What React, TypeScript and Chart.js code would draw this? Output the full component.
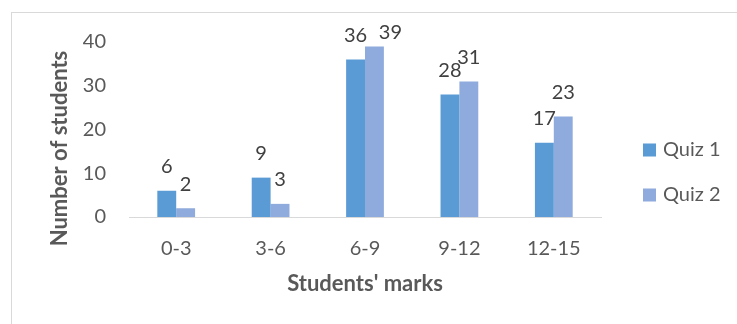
import React, { useEffect, useRef } from "react";
import { Chart, registerables } from "chart.js";

Chart.register(...registerables);

// Number of students per mark band, for each quiz
const categories = ["0-3", "3-6", "6-9", "9-12", "12-15"];
const quiz1 = [6, 9, 36, 28, 17];
const quiz2 = [2, 3, 39, 31, 23];
const seriesNames = ["Quiz 1", "Quiz 2"];
const yTicks = [0, 10, 20, 30, 40];
const xTitle = "Students' marks";
const yTitle = "Number of students";

const FONT = "Lato, 'Open Sans', sans-serif";
const TEXT = "#595959";
const LABEL = "#404040";
const COLORS = ["#5B9BD5", "#8FAADC"];
const SIZE = 20;
const TITLE_SIZE = 22;

// white page and thin grey frame around the chart
const framePlugin = {
  id: "frame",
  beforeDraw(chart: any) {
    const { ctx, width, height } = chart;
    ctx.save();
    ctx.fillStyle = "#ffffff";
    ctx.fillRect(0, 0, width, height);
    ctx.strokeStyle = "#d9d9d9";
    ctx.lineWidth = 1;
    ctx.strokeRect(11.5, 12.5, width + 40, height + 40);
    ctx.restore();
  },
};

// value labels above each bar
const valueLabels = {
  id: "valueLabels",
  afterDatasetsDraw(chart: any) {
    const { ctx, chartArea } = chart;
    ctx.save();
    ctx.font = `${SIZE}px ${FONT}`;
    ctx.fillStyle = LABEL;
    ctx.textAlign = "center";
    ctx.textBaseline = "middle";
    chart.data.datasets.forEach((ds: any, di: number) => {
      const meta = chart.getDatasetMeta(di);
      meta.data.forEach((bar: any, i: number) => {
        let x = bar.x;
        let y = bar.y - 24;
        const minY = chartArea.top - 9;
        if (y < minY) {
          y = minY;
          x += 16;
        }
        ctx.fillText(String(ds.data[i]), x, y);
      });
    });
    ctx.restore();
  },
};

// axis titles
const axisTitles = {
  id: "axisTitles",
  afterDraw(chart: any) {
    const { ctx, chartArea } = chart;
    ctx.save();
    ctx.font = `bold ${TITLE_SIZE}px ${FONT}`;
    ctx.fillStyle = TEXT;
    ctx.textAlign = "center";
    ctx.textBaseline = "middle";
    ctx.fillText(xTitle, (chartArea.left + chartArea.right) / 2, chartArea.bottom + 67);
    ctx.translate(chartArea.left - 69, (chartArea.top + chartArea.bottom) / 2 + 19);
    ctx.rotate(-Math.PI / 2);
    ctx.fillText(yTitle, 0, 0);
    ctx.restore();
  },
};

// legend on the right
const sideLegend = {
  id: "sideLegend",
  afterDraw(chart: any) {
    const { ctx, chartArea } = chart;
    ctx.save();
    ctx.font = `${SIZE}px ${FONT}`;
    ctx.textAlign = "left";
    ctx.textBaseline = "middle";
    chart.data.datasets.forEach((ds: any, i: number) => {
      const cy = chartArea.top + 108 + i * 45;
      const x = chartArea.right + 42;
      ctx.fillStyle = ds.backgroundColor;
      ctx.fillRect(x, cy - 6.5, 13, 13);
      ctx.fillStyle = TEXT;
      ctx.fillText(ds.label, x + 20, cy);
    });
    ctx.restore();
  },
};

export default function App() {
  const ref = useRef<HTMLCanvasElement | null>(null);

  useEffect(() => {
    if (!ref.current) return;
    const chart = new Chart(ref.current, {
      type: "bar",
      data: {
        labels: categories,
        datasets: [
          { label: seriesNames[0], data: quiz1, backgroundColor: COLORS[0] },
          { label: seriesNames[1], data: quiz2, backgroundColor: COLORS[1] },
        ],
      },
      options: {
        responsive: false,
        animation: false,
        devicePixelRatio: 1,
        layout: { padding: { top: 42, right: 136, left: 0, bottom: 0 } },
        datasets: {
          bar: { categoryPercentage: 0.4, barPercentage: 1.0 },
        },
        plugins: {
          legend: { display: false },
          tooltip: { enabled: false },
        },
        scales: {
          x: {
            grid: { display: false, drawTicks: false },
            border: { display: true, color: "#d9d9d9", width: 1 },
            ticks: { color: TEXT, font: { family: FONT, size: SIZE }, padding: 20 },
            afterFit(s: any) {
              s.height = 107;
            },
          },
          y: {
            min: 0,
            max: 40,
            grid: { display: false, drawTicks: false },
            border: { display: false },
            ticks: { color: TEXT, font: { family: FONT, size: SIZE }, padding: 23 },
            afterBuildTicks(s: any) {
              s.ticks = yTicks.map((v) => ({ value: v }));
            },
            afterFit(s: any) {
              s.width = 129;
            },
          },
        },
      },
      plugins: [framePlugin, valueLabels, axisTitles, sideLegend],
    });
    return () => chart.destroy();
  }, []);

  return (
    <div style={{ position: "fixed", left: 0, top: 0, width: 737, height: 324, overflow: "hidden", background: "#fff" }}>
      <canvas ref={ref} width={737} height={324} style={{ width: 737, height: 324, display: "block" }} />
    </div>
  );
}
